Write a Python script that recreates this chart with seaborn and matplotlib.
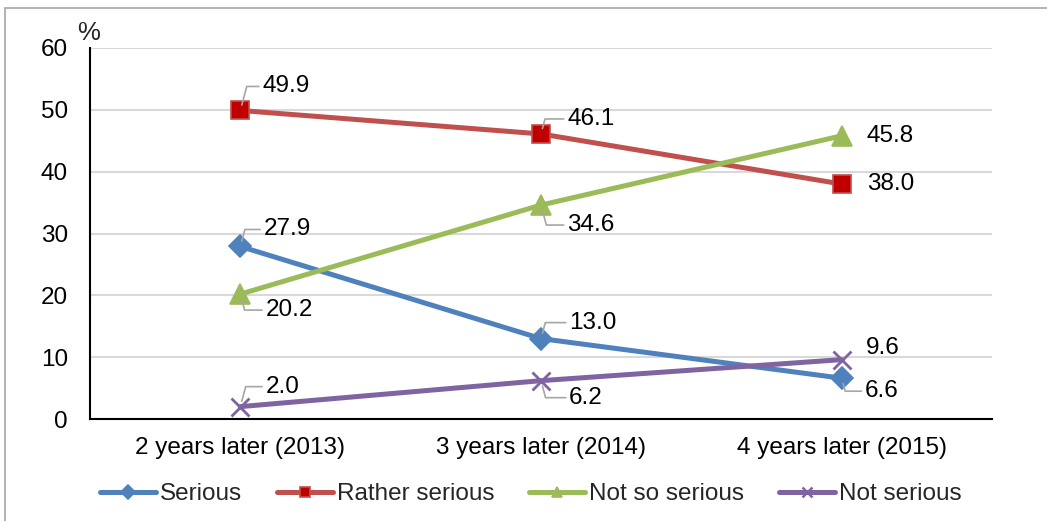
import matplotlib
matplotlib.use("Agg")
import matplotlib.pyplot as plt
import matplotlib.patches as mpatches
import seaborn as sns
import pandas as pd

# Survey waves and share of respondents (%) per answer
categories = ["2 years later (2013)", "3 years later (2014)", "4 years later (2015)"]
serious = [27.9, 13.0, 6.6]
rather_serious = [49.9, 46.1, 38.0]
not_so_serious = [20.2, 34.6, 45.8]
not_serious = [2.0, 6.2, 9.6]
series_names = ["Serious", "Rather serious", "Not so serious", "Not serious"]
y_ticks = [0, 10, 20, 30, 40, 50, 60]

sns.set_theme(style="white")
plt.rcParams["font.family"] = ["Liberation Sans", "DejaVu Sans"]
FS = 17.5

fig = plt.figure(figsize=(10.47, 5.21), dpi=100)
ax = fig.add_axes([90 / 1047, 1 - 419 / 521, 902 / 1047, 371 / 521])

styles = {
    "Serious": dict(color="#4F81BD", marker="D", mfc="#4F81BD", mec="#4F81BD", ms=11),
    "Rather serious": dict(color="#C0504D", marker="s", mfc="#C00000", mec="#C0504D", ms=13),
    "Not so serious": dict(color="#9BBB59", marker="^", mfc="#9BBB59", mec="#9BBB59", ms=15),
    "Not serious": dict(color="#8064A2", marker="x", mfc="#8064A2", mec="#8064A2", ms=13),
}
values = [serious, rather_serious, not_so_serious, not_serious]

df = pd.DataFrame({
    "wave": categories * 4,
    "pos": list(range(len(categories))) * 4,
    "value": serious + rather_serious + not_so_serious + not_serious,
    "series": sum([[n] * len(categories) for n in series_names], []),
})

for name in series_names:
    st = styles[name]
    sub = df[df["series"] == name]
    sns.lineplot(data=sub, x="pos", y="value", ax=ax, color=st["color"], linewidth=3.6,
                 marker=st["marker"], markersize=st["ms"], markerfacecolor=st["mfc"],
                 markeredgecolor=st["mec"], markeredgewidth=1.2 if st["marker"] != "x" else 2.0,
                 label=name, legend=False, solid_capstyle="round")

# Data label offsets in pixels (dx, dy) and whether a leader line is drawn
label_offsets = {
    "Serious": [(23, 17, True), (28, 16, True), (23, -13, True)],
    "Rather serious": [(22, 24, True), (26, 15, True), (25, 0, False)],
    "Not so serious": [(25, -16, True), (26, -20, True), (25, 0, False)],
    "Not serious": [(25, 20, True), (28, -17, True), (24, 12, False)],
}
for name, vals in zip(series_names, values):
    for i, v in enumerate(vals):
        dx, dy, leader = label_offsets[name][i]
        arrow = None
        if leader:
            angle_b = 75 if dy > 0 else -75
            arrow = dict(arrowstyle="-", color="#A6A6A6", lw=1.2, shrinkA=0, shrinkB=4,
                         relpos=(0, 0.5),
                         connectionstyle=f"angle,angleA=0,angleB={angle_b},rad=0")
        ax.annotate(f"{v:.1f}", xy=(i, v), xytext=(dx, dy), textcoords="offset pixels",
                    ha="left", va="center", fontsize=FS, color="black",
                    arrowprops=arrow)

ax.set_xlim(-0.5, 2.5)
ax.set_ylim(0, 60)
ax.set_yticks(y_ticks)
ax.set_xticks(range(len(categories)))
ax.set_xticklabels(categories)
ax.set_xlabel("")
ax.set_ylabel("")
ax.tick_params(axis="both", length=0, labelsize=FS, colors="black")
ax.tick_params(axis="y", pad=16)
ax.tick_params(axis="x", pad=13)
ax.grid(axis="y", color="#D9D9D9", linewidth=1.5)
ax.set_axisbelow(True)
for side in ["top", "right"]:
    ax.spines[side].set_visible(False)
for side in ["left", "bottom"]:
    ax.spines[side].set_color("black")
    ax.spines[side].set_linewidth(1.5)

fig.text(89 / 1047, 1 - 33 / 521, "%", fontsize=18.5, ha="center", va="center")

handles = []
for name in series_names:
    st = styles[name]
    handles.append(plt.Line2D([], [], color=st["color"], linewidth=3.6, marker=st["marker"],
                              markersize=7, markerfacecolor=st["mfc"],
                              markeredgecolor=st["mec"], solid_capstyle="round",
                              markeredgewidth=1.2 if st["marker"] != "x" else 1.8))
fig.legend(handles, series_names, loc="center", bbox_to_anchor=(0.507, 1 - 494 / 521),
           ncol=4, frameon=False, fontsize=FS, handlelength=2.3, handletextpad=0.16,
           columnspacing=1.45, borderpad=0, borderaxespad=0)

# thin frame around the chart area
fig.patches.append(mpatches.Rectangle((5 / 1047, -0.1), 1.1, 1.1 - 8 / 521,
                                      transform=fig.transFigure, fill=False,
                                      edgecolor="#A6A6A6", linewidth=1.2))

fig.savefig("out.png", dpi=100)
